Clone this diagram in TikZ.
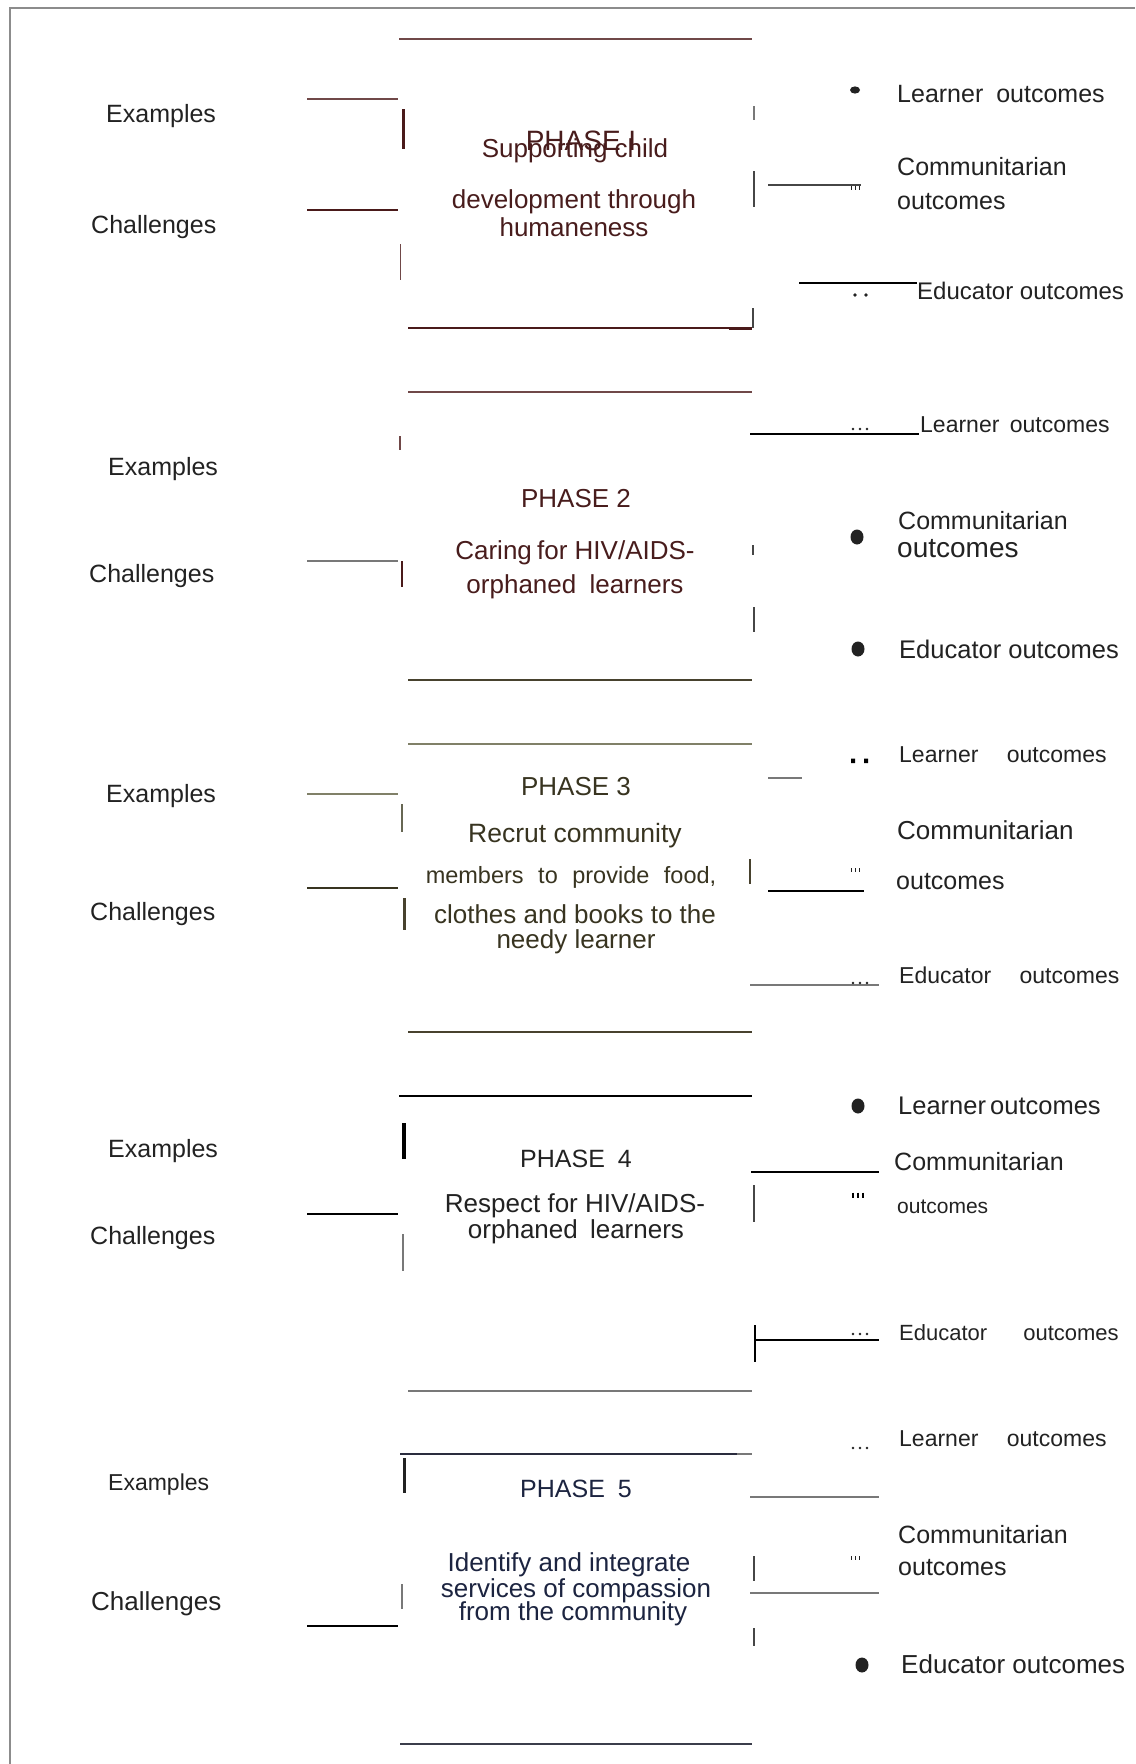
\documentclass[tikz,border=0pt]{standalone}
\usepackage{fontspec}
\setmainfont{Liberation Sans}
\definecolor{framec}{RGB}{140,140,140}
\definecolor{labc}{RGB}{34,34,34}
\definecolor{brA}{RGB}{112,72,72}
\definecolor{brD}{RGB}{74,26,26}
\definecolor{brT}{RGB}{72,28,28}
\definecolor{olA}{RGB}{128,128,104}
\definecolor{olD}{RGB}{72,66,46}
\definecolor{olT}{RGB}{56,52,32}
\definecolor{gyA}{RGB}{120,120,120}
\definecolor{gyD}{RGB}{70,70,70}
\definecolor{nvA}{RGB}{42,44,62}
\definecolor{nvT}{RGB}{28,36,64}
\begin{document}
\begin{tikzpicture}[x=1pt,y=-1pt,
  lab/.style={inner sep=0pt, anchor=base west, text=labc, font=\fontsize{25}{30}\selectfont},
  ph/.style={inner sep=0pt, anchor=base, font=\fontsize{26}{30}\selectfont},
  trip/.pic={\draw[line width=0.9pt] (-4,-1.6)--(-4,1.6) (0,-1.6)--(0,1.6) (4,-1.6)--(4,1.6);},
  tripb/.pic={\draw[line width=1.6pt] (-5,-2.5)--(-5,2.5) (0,-2.5)--(0,2.5) (5,-2.5)--(5,2.5);},
  dotsthree/.pic={\fill (-7,0) circle (1.3) (0,0) circle (1.3) (7,0) circle (1.3);},
  blob/.style={fill=labc}
]
\useasboundingbox (0,0) rectangle (1135,1764);
\fill[white] (0,0) rectangle (1135,1764);

% outer frame
\draw[framec, line width=1.4pt] (10,1764) -- (10,8) -- (1135,8);

% ---------------- Phase 1 ----------------
\draw[brA, line width=1.1pt] (399,39) -- (752,39);
\draw[brA, line width=1.1pt] (307,99) -- (398,99);
\draw[brD, line width=3pt] (403,109) -- (403,149);
\draw[brD, line width=2pt] (307,210) -- (398,210);
\draw[brA, line width=1.5pt] (400.5,244) -- (400.5,280);
\draw[gyA, line width=1.2pt] (754,106) -- (754,120);
\draw[gyD, line width=1.8pt] (754,171) -- (754,207);
\draw[gyD, line width=1.6pt] (768,185) -- (861,185);
\pic[labc] at (855,188) {trip};
\fill[blob] (855,90) ellipse (5 and 3.6);
\draw[black, line width=2.6pt] (799,283) -- (917,283);
\fill[labc] (855,295) circle (1.8) (866,295) circle (1.8);
\draw[brD, line width=1.8pt] (408,328) -- (752,328);
\draw[brD, line width=3pt] (729,328) -- (752,328);
\draw[gyD, line width=1.4pt] (753,308) -- (753,328);

\node[lab] (ex1) at (106,122) {Examples};
\node[lab] (ch1) at (91,233) {Challenges};
\node[ph, text=brT, font=\fontsize{28}{30}\selectfont] (ph1) at (581,150) {PHASE I};
\node[ph, text=brT] (ph1a) at (575,157) {Supporting child};
\node[ph, text=brT] (ph1b) at (574,208) {development through};
\node[ph, text=brT] (ph1c) at (574,236) {humaneness};
\node[lab] (lo1) at (897,102) {Learner\hspace{6pt} outcomes};
\node[lab] (co1) at (897,175) {Communitarian};
\node[lab] (co1b) at (897,209) {outcomes};
\node[lab, font=\fontsize{24}{30}\selectfont] (eo1) at (917,299) {Educator outcomes};

% ---------------- Phase 2 ----------------
\draw[brA, line width=2pt] (408,392) -- (752,392);
\draw[brA, line width=1.5pt] (400,436) -- (400,450);
\draw[gyA, line width=1.3pt] (307,561) -- (398,561);
\draw[brD, line width=2.2pt] (402,561) -- (402,587);
\draw[black, line width=2pt] (750,434) -- (919,434);
\pic[labc] at (860,429) {dotsthree};
\draw[gyD, line width=1.2pt] (753,545) -- (753,555);
\fill[blob] (857,537) ellipse (6.5 and 7.5);
\draw[gyD, line width=1.8pt] (754,607) -- (754,632);
\fill[blob] (858,649) ellipse (6.5 and 7.5);
\draw[olD, line width=1.6pt] (408,680) -- (752,680);
\draw[olD, line width=2.6pt] (729,680) -- (752,680);

\node[lab] (ex2) at (108,475) {Examples};
\node[lab] (ch2) at (89,582) {Challenges};
\node[ph, text=brT] (ph2) at (576,507) {PHASE 2};
\node[ph, text=brT] (ph2a) at (575,559) {Caring\hspace{-2pt} for HIV/AIDS-};
\node[ph, text=brT] (ph2b) at (575,593) {orphaned\hspace{6pt} learners};
\node[lab, font=\fontsize{23}{30}\selectfont] (lo2) at (920,432) {Learner\hspace{4pt} outcomes};
\node[lab] (co2) at (898,529) {Communitarian};
\node[lab, font=\fontsize{28}{30}\selectfont] (co2b) at (897,557) {outcomes};
\node[lab, font=\fontsize{25.5}{30}\selectfont] (eo2) at (899,658) {Educator outcomes};

% ---------------- Phase 3 ----------------
\draw[olA, line width=1.8pt] (408,744) -- (752,744);
\draw[olA, line width=1.3pt] (307,794) -- (398,794);
\draw[olA!80!black, line width=2pt] (402,804) -- (402,832);
\draw[olT, line width=2.8pt] (307,888) -- (398,888);
\draw[olD, line width=3pt] (404,898) -- (404,930);
\fill[black] (851,758.5) rectangle (855,763) (864,758.5) rectangle (868,763);
\draw[gyA, line width=1.4pt] (768,778) -- (802,778);
\draw[olD, line width=2.5pt] (750,859) -- (750,884);
\draw[black, line width=2pt] (768,891) -- (864,891);
\pic[labc] at (855,870) {trip};
\draw[gyA, line width=1.3pt] (750,985) -- (879,985);
\pic[labc] at (860,983) {dotsthree};
\draw[olD, line width=2.5pt] (408,1032) -- (752,1032);

\node[lab] (ex3) at (106,802) {Examples};
\node[lab] (ch3) at (90,920) {Challenges};
\node[ph, text=olT] (ph3) at (576,795) {PHASE 3};
\node[ph, text=olT, font=\fontsize{26.5}{30}\selectfont] (ph3a) at (575,842) {Recrut community};
\node[ph, text=olT, font=\fontsize{23.5}{30}\selectfont] (ph3b) at (571,883) {members\hspace{8pt} to\hspace{8pt} provide\hspace{8pt} food,};
\node[ph, text=olT] (ph3c) at (575,923) {clothes and books to the};
\node[ph, text=olT] (ph3d) at (576,948) {needy learner};
\node[lab, font=\fontsize{23}{30}\selectfont] (lo3) at (899,762) {Learner\hspace{22pt} outcomes};
\node[lab, font=\fontsize{26}{30}\selectfont] (co3) at (897,839) {Communitarian};
\node[lab] (co3b) at (896,889) {outcomes};
\node[lab, font=\fontsize{23}{30}\selectfont] (eo3) at (899,983) {Educator\hspace{22pt} outcomes};

% ---------------- Phase 4 ----------------
\draw[black, line width=2.2pt] (399,1096) -- (752,1096);
\draw[black, line width=3.5pt] (404,1123) -- (404,1159);
\draw[black, line width=2.5pt] (307,1214) -- (398,1214);
\draw[gyA, line width=1.8pt] (403,1234) -- (403,1271);
\fill[blob] (858,1106) ellipse (6.5 and 7.5);
\draw[black, line width=2.5pt] (751,1172) -- (879,1172);
\draw[gyD, line width=1.5pt] (754,1185) -- (754,1222);
\pic[black] at (858,1195) {tripb};
\draw[black, line width=2.8pt] (755,1325) -- (755,1362);
\draw[black, line width=1.3pt] (755,1340) -- (879,1340);
\pic[labc] at (860,1334) {dotsthree};
\draw[gyA, line width=1.3pt] (408,1391) -- (752,1391);

\node[lab] (ex4) at (108,1157) {Examples};
\node[lab] (ch4) at (90,1244) {Challenges};
\node[ph, text=labc, font=\fontsize{25}{30}\selectfont] (ph4) at (576,1167) {PHASE\hspace{6pt} 4};
\node[ph, text=labc] (ph4a) at (575,1212) {Respect for HIV/AIDS-};
\node[ph, text=labc] (ph4b) at (576,1238) {orphaned\hspace{5pt} learners};
\node[lab, font=\fontsize{25.5}{30}\selectfont] (lo4) at (898,1114) {Learner\hspace{-3pt} outcomes};
\node[lab] (co4) at (894,1170) {Communitarian};
\node[lab, font=\fontsize{21}{30}\selectfont] (co4b) at (897,1213) {outcomes};
\node[lab, font=\fontsize{22}{30}\selectfont] (eo4) at (899,1340) {Educator\hspace{30pt} outcomes};

% ---------------- Phase 5 ----------------
\pic[labc] at (860,1448) {dotsthree};
\draw[nvA, line width=2.8pt] (400,1454) -- (737,1454);
\draw[gyA, line width=1.2pt] (737,1454) -- (752,1454);
\draw[labc, line width=3pt] (404,1458) -- (404,1493);
\draw[gyA, line width=1.3pt] (750,1497) -- (879,1497);
\pic[labc] at (855,1558) {trip};
\draw[gyD, line width=2pt] (754,1556) -- (754,1581);
\draw[gyA, line width=1.3pt] (750,1593) -- (879,1593);
\draw[gyA, line width=1.3pt] (402,1584) -- (402,1609);
\draw[black, line width=1.3pt] (307,1626) -- (398,1626);
\draw[gyD, line width=1.5pt] (754,1628) -- (754,1646);
\fill[blob] (862,1665) ellipse (6.5 and 7.5);
\draw[nvA!80!gray, line width=2pt] (400,1744) -- (752,1744);

\node[lab, font=\fontsize{23}{30}\selectfont] (lo5) at (899,1446) {Learner\hspace{22pt} outcomes};
\node[lab, font=\fontsize{23}{30}\selectfont] (ex5) at (108,1490) {Examples};
\node[ph, text=nvT, font=\fontsize{25}{30}\selectfont] (ph5) at (576,1497) {PHASE\hspace{6pt} 5};
\node[ph, text=nvT] (ph5a) at (569,1571) {Identify and integrate};
\node[ph, text=nvT] (ph5b) at (576,1597) {services of compassion};
\node[ph, text=nvT] (ph5c) at (573,1620) {from the community};
\node[lab, font=\fontsize{26}{30}\selectfont] (ch5) at (91,1610) {Challenges};
\node[lab] (co5) at (898,1543) {Communitarian};
\node[lab] (co5b) at (898,1575) {outcomes};
\node[lab, font=\fontsize{26}{30}\selectfont] (eo5) at (901,1673) {Educator outcomes};
\end{tikzpicture}
\end{document}
